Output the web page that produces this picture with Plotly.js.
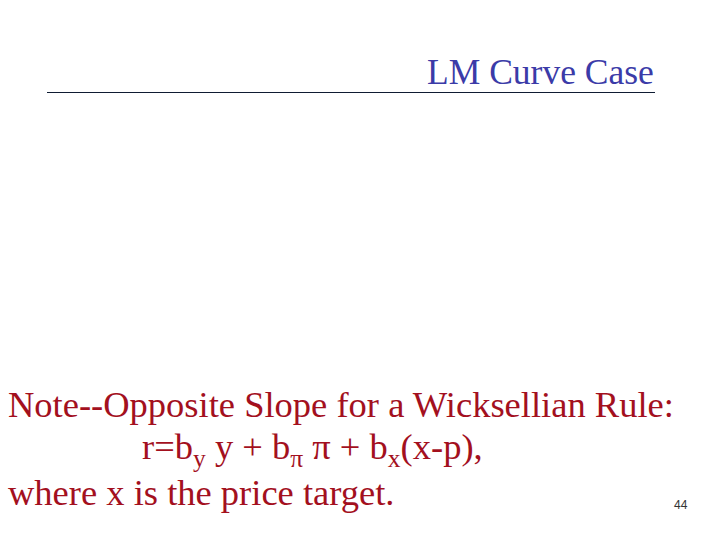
<!DOCTYPE html>
<html>
<head>
<meta charset="utf-8">
<script src="https://cdn.plot.ly/plotly-3.0.1.min.js"></script>
<style>
  html, body { margin: 0; padding: 0; background: #fff; }
  #slide { width: 720px; height: 540px; }
</style>
</head>
<body>
<div id="slide"></div>
<script>
// slide text
const titleText = 'LM Curve Case';
const noteLines = [
  'Note--Opposite Slope for a Wicksellian Rule:',
  'r=b<sub>y</sub> y + b<sub>π</sub> π + b<sub>x</sub>(x-p),',
  'where x is the price target.'
];
const noteIndent = [6, 140, 6];
const noteY = [404, 449, 492];
const pageNumber = '44';

const serif = 'Liberation Serif, Times New Roman, serif';

const annotations = [{
  x: 656, y: 72, xref: 'x', yref: 'y',
  text: titleText, showarrow: false,
  xanchor: 'right', yanchor: 'middle',
  font: { family: serif, size: 35.5, color: '#3b3ba8' }
}];

noteLines.forEach((line, i) => {
  annotations.push({
    x: noteIndent[i], y: noteY[i], xref: 'x', yref: 'y',
    text: line, showarrow: false,
    xanchor: 'left', yanchor: 'middle',
    font: { family: serif, size: 36.5, color: '#a3101e' }
  });
});

annotations.push({
  x: 690, y: 505, xref: 'x', yref: 'y',
  text: pageNumber, showarrow: false,
  xanchor: 'right', yanchor: 'middle',
  font: { family: 'Liberation Sans, Arial, sans-serif', size: 12, color: '#333333' }
});

const layout = {
  width: 720,
  height: 540,
  margin: { l: 0, r: 0, t: 0, b: 0 },
  paper_bgcolor: '#ffffff',
  plot_bgcolor: '#ffffff',
  showlegend: false,
  xaxis: { range: [0, 720], visible: false, fixedrange: true },
  yaxis: { range: [540, 0], visible: false, fixedrange: true },
  shapes: [{
    type: 'line', xref: 'x', yref: 'y',
    x0: 47, x1: 655, y0: 92.5, y1: 92.5,
    line: { color: '#0f1c33', width: 1 }
  }],
  annotations: annotations
};

Plotly.newPlot('slide', [], layout, { staticPlot: true, displayModeBar: false });
</script>
</body>
</html>
